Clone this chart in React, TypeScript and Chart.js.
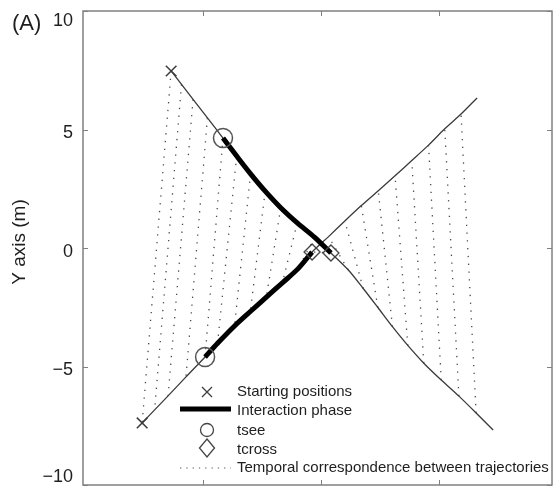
import React, { useEffect, useRef } from "react";
import { Chart, registerables } from "chart.js";

Chart.register(...registerables);

// Trajectory of pedestrian A (starts top-left), sampled at equal time steps
const trajAX = [-6.36, -5.92, -5.43, -4.82, -4.16, -3.58, -2.99, -2.37, -1.71, -1.01, -0.27, 0.42, 1.15, 1.79, 2.41, 3.03, 3.68, 4.36, 5.1, 5.85, 6.58, 7.3];
const trajAY = [7.47, 6.9, 6.27, 5.49, 4.64, 3.88, 3.13, 2.4, 1.7, 1.06, 0.45, -0.21, -0.92, -1.71, -2.51, -3.32, -4.11, -4.86, -5.57, -6.25, -6.96, -7.68];
// Trajectory of pedestrian B (starts bottom-left)
const trajBX = [-7.59, -7.06, -6.49, -5.73, -4.92, -4.39, -3.67, -3.0, -2.32, -1.64, -0.97, -0.38, 0.32, 1.01, 1.71, 2.43, 3.14, 3.85, 4.56, 5.25, 5.94, 6.62];
const trajBY = [-7.38, -6.83, -6.24, -5.44, -4.6, -4.02, -3.29, -2.68, -2.07, -1.47, -0.87, -0.17, 0.48, 1.14, 1.79, 2.42, 3.05, 3.69, 4.34, 5.03, 5.65, 6.33];

const tseeIndex = 4;
const tcrossIndex = 11;
const correspondenceCount = 21;

const xMin = -10.1;
const xMax = 9.8;
const yMin = -10;
const yMax = 10;
const xTicks = [-5, 0, 5];
const yTicks = [10, 5, 0, -5, -10];
const yTickLabels = ["10", "5", "0", "\u22125", "\u221210"];
const yTitle = "Y axis (m)";
const panelLabel = "(A)";
const legendLabels = [
  "Starting positions",
  "Interaction phase",
  "tsee",
  "tcross",
  "Temporal correspondence between trajectories",
];

const FONT = "'Liberation Sans', Arial, sans-serif";
const TEXT = "#1e1e1e";
const FRAME = "#808080";

const framePlugin = {
  id: "matlabFrame",
  afterDatasetsDraw(chart: any) {
    const { ctx, chartArea } = chart;
    const { left, top, right, bottom } = chartArea;
    const xs = chart.scales.x;
    const ys = chart.scales.y;
    ctx.save();
    // box
    ctx.strokeStyle = FRAME;
    ctx.lineWidth = 1.5;
    ctx.strokeRect(left, top, right - left, bottom - top);
    // inward ticks
    ctx.lineWidth = 1;
    ctx.beginPath();
    xTicks.forEach((v) => {
      const px = Math.round(xs.getPixelForValue(v)) + 0.5;
      ctx.moveTo(px, bottom);
      ctx.lineTo(px, bottom - 5);
      ctx.moveTo(px, top);
      ctx.lineTo(px, top + 5);
    });
    yTicks.forEach((v) => {
      const py = Math.round(ys.getPixelForValue(v)) + 0.5;
      ctx.moveTo(left, py);
      ctx.lineTo(left + 5, py);
      ctx.moveTo(right, py);
      ctx.lineTo(right - 5, py);
    });
    ctx.stroke();

    // tick labels
    ctx.fillStyle = TEXT;
    ctx.font = `18px ${FONT}`;
    ctx.textAlign = "right";
    ctx.textBaseline = "middle";
    yTicks.forEach((v, i) => {
      let py = ys.getPixelForValue(v) + 4;
      py = Math.max(top + 10, Math.min(bottom - 8, py));
      ctx.fillText(yTickLabels[i], left - 10, py);
    });

    // y title
    ctx.save();
    ctx.translate(20, (top + bottom) / 2 - 6);
    ctx.rotate(-Math.PI / 2);
    ctx.textAlign = "center";
    ctx.textBaseline = "middle";
    ctx.font = `19px ${FONT}`;
    ctx.fillText(yTitle, 0, 0);
    ctx.restore();

    // panel label
    ctx.font = `22px ${FONT}`;
    ctx.textAlign = "left";
    ctx.textBaseline = "alphabetic";
    ctx.fillText(panelLabel, 12, 30);

    // legend
    const symX = 207;
    const lineX0 = 180;
    const lineX1 = 231;
    const textX = 237;
    const rows = [392, 411, 431, 450, 468];
    ctx.font = `15px ${FONT}`;
    ctx.textBaseline = "middle";
    ctx.textAlign = "left";
    legendLabels.forEach((lab, i) => {
      ctx.fillStyle = TEXT;
      ctx.fillText(lab, textX, rows[i]);
    });
    // cross
    ctx.strokeStyle = "#3c3c3c";
    ctx.lineWidth = 1.3;
    ctx.beginPath();
    const r = 5;
    ctx.moveTo(symX - r, rows[0] - r);
    ctx.lineTo(symX + r, rows[0] + r);
    ctx.moveTo(symX + r, rows[0] - r);
    ctx.lineTo(symX - r, rows[0] + r);
    ctx.stroke();
    // thick line
    ctx.strokeStyle = "#000";
    ctx.lineWidth = 5;
    ctx.beginPath();
    ctx.moveTo(lineX0, rows[1] - 2);
    ctx.lineTo(lineX1, rows[1] - 2);
    ctx.stroke();
    // circle
    ctx.strokeStyle = "#444";
    ctx.lineWidth = 1.3;
    ctx.beginPath();
    ctx.arc(symX, rows[2] - 1, 6.5, 0, Math.PI * 2);
    ctx.stroke();
    // diamond
    ctx.beginPath();
    ctx.moveTo(symX, rows[3] - 11);
    ctx.lineTo(symX + 7.5, rows[3] - 2);
    ctx.lineTo(symX, rows[3] + 7);
    ctx.lineTo(symX - 7.5, rows[3] - 2);
    ctx.closePath();
    ctx.stroke();
    // dotted
    ctx.strokeStyle = "#555";
    ctx.lineWidth = 1.2;
    ctx.setLineDash([1.3, 5]);
    ctx.beginPath();
    ctx.moveTo(lineX0, rows[4]);
    ctx.lineTo(lineX1, rows[4]);
    ctx.stroke();
    ctx.setLineDash([]);
    ctx.restore();
  },
};

export default function App() {
  const canvasRef = useRef<HTMLCanvasElement | null>(null);

  useEffect(() => {
    if (!canvasRef.current) return;
    const ptsA = trajAX.map((x, i) => ({ x, y: trajAY[i] }));
    const ptsB = trajBX.map((x, i) => ({ x, y: trajBY[i] }));

    const corr: any[] = [];
    for (let i = 0; i < correspondenceCount; i++) {
      corr.push({
        data: [ptsA[i], ptsB[i]],
        showLine: true,
        borderColor: "#4a4a4a",
        borderWidth: 1.3,
        borderDash: [1.3, 6.5],
        pointRadius: 0,
        tension: 0,
      });
    }

    const datasets: any[] = [
      {
        data: [ptsA[0], ptsB[0]],
        showLine: false,
        pointStyle: "crossRot",
        pointRadius: 7.5,
        borderColor: "#3c3c3c",
        borderWidth: 1.5,
      },
      {
        data: [ptsA[tseeIndex], ptsB[tseeIndex]],
        showLine: false,
        pointStyle: "circle",
        pointRadius: 9.5,
        borderColor: "#555",
        backgroundColor: "rgba(0,0,0,0)",
        borderWidth: 1.5,
      },
      {
        data: [ptsA[tcrossIndex], ptsB[tcrossIndex]],
        showLine: false,
        pointStyle: "rectRot",
        pointRadius: 8,
        borderColor: "#444",
        backgroundColor: "rgba(0,0,0,0)",
        borderWidth: 1.3,
      },
      {
        data: ptsA.slice(tseeIndex, tcrossIndex + 1),
        showLine: true,
        borderColor: "#000",
        borderWidth: 5,
        pointRadius: 0,
        tension: 0.3,
      },
      {
        data: ptsB.slice(tseeIndex, tcrossIndex + 1),
        showLine: true,
        borderColor: "#000",
        borderWidth: 5,
        pointRadius: 0,
        tension: 0.3,
      },
      {
        data: ptsA,
        showLine: true,
        borderColor: "#3a3a3a",
        borderWidth: 1.3,
        pointRadius: 0,
        tension: 0.3,
      },
      {
        data: ptsB,
        showLine: true,
        borderColor: "#3a3a3a",
        borderWidth: 1.3,
        pointRadius: 0,
        tension: 0.3,
      },
      ...corr,
    ];

    const chart = new Chart(canvasRef.current, {
      type: "scatter",
      data: { datasets },
      options: {
        animation: false,
        responsive: false,
        maintainAspectRatio: false,
        layout: {
          autoPadding: false,
          padding: { top: 11, bottom: 3, left: 0, right: 1 },
        },
        plugins: {
          legend: { display: false },
          tooltip: { enabled: false },
        },
        scales: {
          x: {
            type: "linear",
            min: xMin,
            max: xMax,
            grid: { display: false, drawTicks: false },
            border: { display: false },
            ticks: { display: false },
            afterFit: (s: any) => {
              s.height = 0;
            },
          },
          y: {
            type: "linear",
            min: yMin,
            max: yMax,
            grid: { display: false, drawTicks: false },
            border: { display: false },
            ticks: { display: false },
            afterFit: (s: any) => {
              s.width = 83;
            },
          },
        },
      } as any,
      plugins: [framePlugin],
    });
    return () => chart.destroy();
  }, []);

  return (
    <div
      style={{
        position: "fixed",
        left: 0,
        top: 0,
        width: 553,
        height: 488,
        background: "#fff",
      }}
    >
      <canvas
        ref={canvasRef}
        width={553}
        height={488}
        style={{ width: 553, height: 488, display: "block" }}
      />
    </div>
  );
}
